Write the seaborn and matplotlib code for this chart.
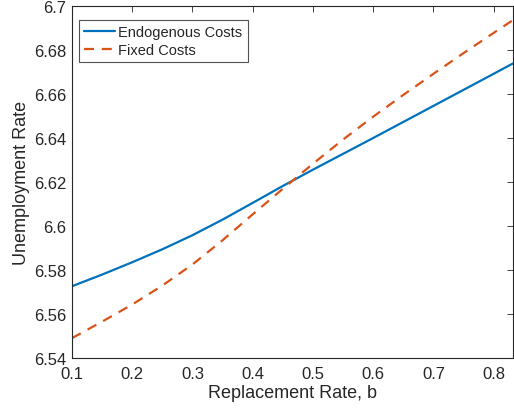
import numpy as np
import pandas as pd
import matplotlib
matplotlib.use("Agg")
import matplotlib.pyplot as plt
import seaborn as sns

# replacement rate grid and unemployment rates
b = [0.10, 0.15, 0.20, 0.25, 0.30, 0.35, 0.40, 0.45, 0.50,
     0.55, 0.60, 0.65, 0.70, 0.75, 0.80, 0.832]
endogenous = [6.5726, 6.5779, 6.5835, 6.5894, 6.5958, 6.6029, 6.6105, 6.6182, 6.6256,
              6.6328, 6.6400, 6.6473, 6.6546, 6.6619, 6.6692, 6.6739]
fixed = [6.5490, 6.5565, 6.5643, 6.5729, 6.5825, 6.5935, 6.6053, 6.6169, 6.6283,
         6.6393, 6.6497, 6.6596, 6.6692, 6.6786, 6.6878, 6.6936]

xticks = [0.1, 0.2, 0.3, 0.4, 0.5, 0.6, 0.7, 0.8]
yticks = [6.54, 6.56, 6.58, 6.6, 6.62, 6.64, 6.66, 6.68, 6.7]
ytick_labels = ["6.54", "6.56", "6.58", "6.6", "6.62", "6.64", "6.66", "6.68", "6.7"]

sns.set_style("white")
plt.rcParams["font.family"] = ["Liberation Sans", "DejaVu Sans"]

ink = "#262626"
fig = plt.figure(figsize=(5.14, 4.14), dpi=100)
ax = fig.add_axes([0.140, 0.133, 0.858, 0.850])

sns.lineplot(x=b, y=endogenous, ax=ax, color="#0072BD", lw=1.6,
             label="Endogenous Costs")
sns.lineplot(x=b, y=fixed, ax=ax, color="#D95319", lw=1.6,
             linestyle=(0, (4.5, 3.5)), label="Fixed Costs")

ax.set_xlim(0.1, 0.832)
ax.set_ylim(6.54, 6.7)
ax.set_xticks(xticks)
ax.set_xticklabels([f"{t:g}" for t in xticks])
ax.set_yticks(yticks)
ax.set_yticklabels(ytick_labels)

ax.tick_params(direction="in", length=4, width=0.6, top=True, right=True,
               labelsize=12, colors=ink)
ax.tick_params(axis="x", pad=6)
ax.tick_params(axis="y", pad=4)
for s in ax.spines.values():
    s.set_color(ink)
    s.set_linewidth(0.8)

ax.set_xlabel("Replacement Rate, b", fontsize=13, color=ink, labelpad=2)
ax.set_ylabel("Unemployment Rate", fontsize=13, color=ink, labelpad=3)

leg = ax.legend(loc="upper left", bbox_to_anchor=(0.016, 0.960),
                fontsize=10.5, frameon=True, fancybox=False,
                handlelength=2.1, borderpad=0.35, labelspacing=0.25,
                handletextpad=0.25, borderaxespad=0)
leg.get_frame().set_edgecolor(ink)
leg.get_frame().set_linewidth(0.8)
for t in leg.get_texts():
    t.set_color(ink)

fig.savefig("out.png", dpi=100)
